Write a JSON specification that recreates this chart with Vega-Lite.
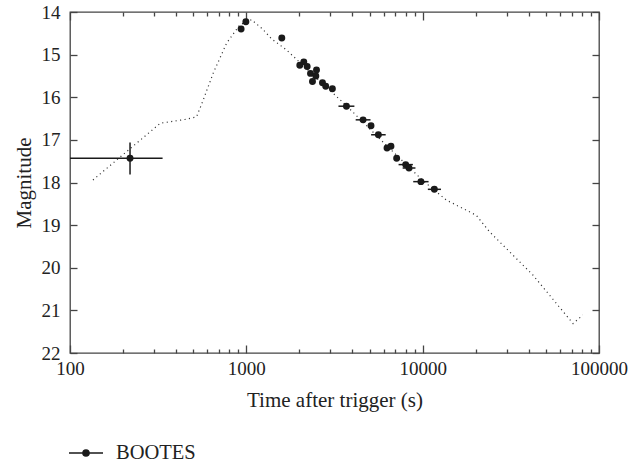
{
  "$schema": "https://vega.github.io/schema/vega-lite/v6.json",
  "width": 529,
  "height": 341,
  "autosize": {"type": "none"},
  "padding": {"left": 70, "top": 12, "right": 30, "bottom": 109},
  "background": "white",
  "config": {
    "font": "Liberation Serif, Times New Roman, serif",
    "view": {"stroke": "#444", "strokeWidth": 1.3},
    "axis": {"labelFont": "Liberation Serif, Times New Roman, serif", "titleFont": "Liberation Serif, Times New Roman, serif", "labelFontSize": 19, "titleFontSize": 21, "labelColor": "#222", "titleColor": "#222", "titleFontWeight": "normal", "grid": false, "domain": false, "tickColor": "#444", "tickWidth": 1.3, "labelFlush": false},
    "legend": {"labelFont": "Liberation Serif, Times New Roman, serif", "labelFontSize": 20.5, "labelColor": "#222"}
  },
  "datasets": {
    "model": [
      {"t": 135, "m": 17.94}, {"t": 325, "m": 16.61}, {"t": 450, "m": 16.52}, {"t": 522, "m": 16.46},
      {"t": 569, "m": 16.07}, {"t": 648, "m": 15.44}, {"t": 773, "m": 14.73}, {"t": 919, "m": 14.30},
      {"t": 1070, "m": 14.18}, {"t": 1236, "m": 14.40}, {"t": 1390, "m": 14.63}, {"t": 1690, "m": 14.89},
      {"t": 1925, "m": 15.11}, {"t": 3700, "m": 16.2}, {"t": 6300, "m": 17.15}, {"t": 10000, "m": 17.95},
      {"t": 13600, "m": 18.41}, {"t": 20150, "m": 18.77}, {"t": 24000, "m": 19.16}, {"t": 42170, "m": 20.17},
      {"t": 71280, "m": 21.31}, {"t": 80950, "m": 21.11}
    ],
    "obs": [
      {"t": 219, "m": 17.43, "tlo": 100, "thi": 335, "mlo": 17.06, "mhi": 17.81},
      {"t": 934, "m": 14.40}, {"t": 994, "m": 14.23}, {"t": 1589, "m": 14.61},
      {"t": 2010, "m": 15.25}, {"t": 2118, "m": 15.17}, {"t": 2213, "m": 15.28}, {"t": 2312, "m": 15.44},
      {"t": 2500, "m": 15.36}, {"t": 2478, "m": 15.50}, {"t": 2372, "m": 15.63}, {"t": 2703, "m": 15.66},
      {"t": 2820, "m": 15.74}, {"t": 3076, "m": 15.80},
      {"t": 3696, "m": 16.21, "tlo": 3330, "thi": 4100},
      {"t": 4592, "m": 16.53, "tlo": 4170, "thi": 5060},
      {"t": 5094, "m": 16.67},
      {"t": 5608, "m": 16.88, "tlo": 5100, "thi": 6170},
      {"t": 6279, "m": 17.19}, {"t": 6610, "m": 17.15}, {"t": 7120, "m": 17.43},
      {"t": 8010, "m": 17.58, "tlo": 7300, "thi": 8800},
      {"t": 8363, "m": 17.66, "tlo": 7700, "thi": 9100},
      {"t": 9775, "m": 17.98, "tlo": 8840, "thi": 10800},
      {"t": 11650, "m": 18.16, "tlo": 10700, "thi": 12700}
    ]
  },
  "resolve": {"axis": {"x": "independent", "y": "independent"}},
  "layer": [
    {
      "data": {"name": "model"},
      "mark": {"type": "line", "color": "#333", "strokeWidth": 1.2, "strokeDash": [1.1, 3.4], "clip": true},
      "encoding": {
        "x": {"field": "t", "type": "quantitative", "scale": {"type": "log", "domain": [100, 100000]},
          "axis": {"orient": "bottom", "title": "Time after trigger (s)", "values": [100, 1000, 10000, 100000], "format": "d", "ticks": false, "labelPadding": 6, "titlePadding": 11}},
        "y": {"field": "m", "type": "quantitative", "scale": {"domain": [14, 22], "reverse": true, "nice": false, "zero": false},
          "axis": {"orient": "left", "title": "Magnitude", "values": [14, 15, 16, 17, 18, 19, 20, 21, 22], "format": "d", "ticks": false, "labelPadding": 10, "titlePadding": 7}}
      }
    },
    {
      "data": {"name": "obs"},
      "transform": [{"filter": "isValid(datum.tlo)"}],
      "mark": {"type": "rule", "color": "#1a1a1a", "strokeWidth": 1.5, "clip": true},
      "encoding": {
        "x": {"field": "tlo", "type": "quantitative",
          "axis": {"orient": "top", "offset": -341, "labels": false, "title": null, "values": [100, 200, 300, 400, 500, 600, 700, 800, 900, 1000, 2000, 3000, 4000, 5000, 6000, 7000, 8000, 9000, 10000, 20000, 30000, 40000, 50000, 60000, 70000, 80000, 90000, 100000],
            "tickSize": {"condition": {"test": "datum.value==100||datum.value==1000||datum.value==10000||datum.value==100000", "value": 8}, "value": 4}}},
        "x2": {"field": "thi"},
        "y": {"field": "m", "type": "quantitative",
          "axis": {"orient": "right", "offset": -529, "labels": false, "title": null, "values": [14, 15, 16, 17, 18, 19, 20, 21, 22], "tickSize": 7}}
      }
    },
    {
      "data": {"name": "obs"},
      "transform": [{"filter": "isValid(datum.mlo)"}],
      "mark": {"type": "rule", "color": "#1a1a1a", "strokeWidth": 1.5},
      "encoding": {
        "x": {"field": "t", "type": "quantitative",
          "axis": {"orient": "bottom", "offset": -341, "labels": false, "title": null, "values": [100, 200, 300, 400, 500, 600, 700, 800, 900, 1000, 2000, 3000, 4000, 5000, 6000, 7000, 8000, 9000, 10000, 20000, 30000, 40000, 50000, 60000, 70000, 80000, 90000, 100000],
            "tickSize": {"condition": {"test": "datum.value==100||datum.value==1000||datum.value==10000||datum.value==100000", "value": 8}, "value": 4}}},
        "y": {"field": "mlo", "type": "quantitative",
          "axis": {"orient": "left", "offset": -529, "labels": false, "title": null, "values": [14, 15, 16, 17, 18, 19, 20, 21, 22], "tickSize": 7}},
        "y2": {"field": "mhi"}
      }
    },
    {
      "data": {"name": "obs"},
      "mark": {"type": "point", "filled": true, "size": 48, "opacity": 1},
      "encoding": {
        "x": {"field": "t", "type": "quantitative", "axis": null},
        "y": {"field": "m", "type": "quantitative", "axis": null},
        "color": {"datum": "BOOTES", "type": "nominal", "scale": {"range": ["#1a1a1a"]},
          "legend": {"title": null, "orient": "none", "legendX": -2, "legendY": 423, "labelOffset": 12,
            "symbolType": "M-1,0H1M-0.18,0A0.18,0.18,0,1,0,0.18,0A0.18,0.18,0,1,0,-0.18,0Z",
            "symbolSize": 1156, "symbolStrokeWidth": 1.5, "symbolStrokeColor": "#1a1a1a", "symbolFillColor": "#1a1a1a",
            "encode": {"symbols": {"update": {"stroke": {"value": "#1a1a1a"}, "strokeWidth": {"value": 1.5}, "fill": {"value": "#1a1a1a"}}}}}}
      }
    }
  ]
}
